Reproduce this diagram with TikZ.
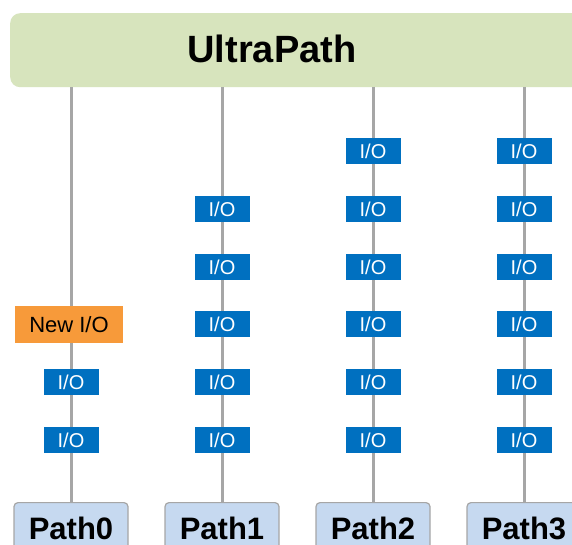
\documentclass[tikz,border=0pt]{standalone}
\usepackage{fontspec}
\setmainfont{Liberation Sans}
\definecolor{bannerfill}{HTML}{D7E4BD}
\definecolor{iofill}{HTML}{0070C0}
\definecolor{newfill}{HTML}{F79A3A}
\definecolor{pathfill}{HTML}{C6D9F0}
\definecolor{linegray}{HTML}{A6A6A6}
\tikzset{
  banner/.style={fill=bannerfill, rounded corners=10pt, draw=none},
  iobox/.style={fill=iofill, text=white, minimum width=55pt, minimum height=26pt, inner sep=0pt, font=\fontsize{20}{20}\selectfont},
  newbox/.style={fill=newfill, text=black, minimum width=108pt, minimum height=37pt, inner sep=0pt, font=\fontsize{22}{22}\selectfont},
  pathbox/.style={fill=pathfill, draw=linegray, line width=1.2pt, rounded corners=4pt, minimum width=114pt, minimum height=52pt, inner sep=0pt, anchor=north, font=\bfseries\fontsize{31}{31}\selectfont},
  vline/.style={draw=linegray, line width=3pt}
}
\begin{document}
\begin{tikzpicture}[x=1pt,y=-1pt]
\useasboundingbox (0,0) rectangle (572,545);
\clip (0,0) rectangle (572,545);
\fill[white] (0,0) rectangle (572,545);
% banner
\node[banner, minimum width=590pt, minimum height=74pt, anchor=north west, inner sep=0pt] (ultra) at (10,13) {};
\node[font=\bfseries\fontsize{38}{38}\selectfont] (ultratext) at (272,49) {UltraPath};
% anchor points on banner bottom
\coordinate (t0) at (71,87);
\coordinate (t1) at (222,87);
\coordinate (t2) at (373,87);
\coordinate (t3) at (524,87);
% path boxes
\node[pathbox] (p0) at (71,502) {Path0};
\node[pathbox] (p1) at (222,502) {Path1};
\node[pathbox] (p2) at (373,502) {Path2};
\node[pathbox] (p3) at (524,502) {Path3};
% lines
\draw[vline] (t0) -- (p0.north);
\draw[vline] (t1) -- (p1.north);
\draw[vline] (t2) -- (p2.north);
\draw[vline] (t3) -- (p3.north);
% column 0
\node[newbox] (n0) at (69,324.5) {New I/O};
\node[iobox] (a04) at (71,382) {I/O};
\node[iobox] (a05) at (71,440) {I/O};
% column 1
\foreach \y [count=\i] in {209,267,324,382,440}
  \node[iobox] (a1\i) at (222,\y) {I/O};
% column 2
\foreach \y [count=\i] in {151,209,267,324,382,440}
  \node[iobox] (a2\i) at (373,\y) {I/O};
% column 3
\foreach \y [count=\i] in {151,209,267,324,382,440}
  \node[iobox] (a3\i) at (524,\y) {I/O};
\end{tikzpicture}
\end{document}
